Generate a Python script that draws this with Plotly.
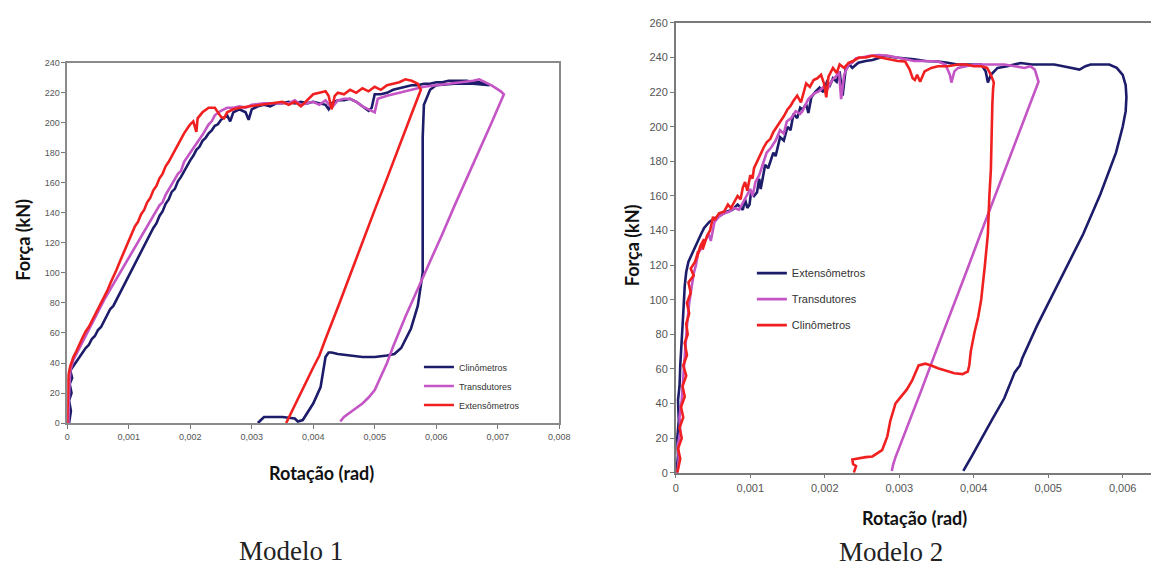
import plotly.graph_objects as go

# ---------------- Modelo 1 data ----------------
m1_clino_x = [0.00003, 0.00006, 0.00003, 0.00007, 0.00004, 0.00008, 0.00005, 0.0001, 0.00015, 0.0002, 0.00025,
              0.0003, 0.00035, 0.0004, 0.00045, 0.0005, 0.00055, 0.0006, 0.00065, 0.0007, 0.00075, 0.0008,
              0.00085, 0.0009, 0.00095, 0.001, 0.00105, 0.0011, 0.00115, 0.0012, 0.00125, 0.0013, 0.00135,
              0.0014, 0.00145, 0.0015, 0.00155, 0.0016, 0.00165, 0.0017, 0.00175, 0.0018, 0.00185, 0.0019,
              0.00195, 0.002, 0.00205, 0.0021, 0.00215, 0.0022, 0.00225, 0.0023, 0.00235, 0.0024, 0.00245,
              0.0025, 0.0026, 0.00265, 0.0027, 0.0028, 0.0029, 0.00295, 0.003, 0.0031, 0.0032, 0.0033, 0.0034,
              0.0035, 0.0036, 0.0037, 0.0038, 0.0039, 0.004, 0.0041, 0.0042, 0.00425, 0.0043, 0.0044, 0.0045,
              0.0046, 0.0047, 0.0048, 0.0049, 0.00495, 0.005, 0.0051, 0.0052, 0.0053, 0.0054, 0.0055, 0.0056,
              0.0057, 0.0058, 0.0059, 0.006, 0.0061, 0.0062, 0.0063, 0.0064, 0.0065, 0.0066, 0.0067, 0.0068,
              0.00687, 0.0066, 0.0063, 0.006, 0.0059, 0.0058, 0.00578, 0.00578, 0.00578, 0.00578, 0.0057,
              0.00559, 0.00543, 0.00532, 0.0052, 0.005, 0.0048, 0.0046, 0.0044, 0.0043, 0.00425, 0.0042,
              0.00412, 0.004, 0.0039, 0.00383, 0.00375, 0.0037, 0.0035, 0.0033, 0.0032, 0.00315, 0.0031]
m1_clino_y = [0, 8, 15, 20, 26, 30, 35, 38, 41, 44, 47,
              50, 52, 56, 58, 62, 64, 68, 71, 76, 78, 82,
              86, 90, 94, 99, 102, 107, 110, 115, 118, 123, 126,
              130, 133, 138, 141, 146, 149, 154, 156, 161, 164, 168,
              171, 175, 178, 182, 184, 188, 190, 193, 195, 198, 199,
              202, 205, 201, 207, 209, 207, 202, 209, 211, 212, 211, 213,
              213, 214, 213, 214, 213, 214, 213, 212, 209, 213, 215, 215,
              216, 214, 211, 208, 210, 219, 219, 220, 222, 223, 224, 225,
              225, 226, 226, 227, 227, 228, 228, 228, 228, 227, 227, 226,
              225, 226, 226, 225, 222, 212, 190, 160, 130, 100, 78,
              63, 50, 46, 45, 44, 44, 45, 46, 47, 47, 44,
              24, 13, 6, 2, 1, 3, 4, 4, 4, 2, 0]

m1_trans_x = [0.00002, 0.00003, 0.00005, 0.0001, 0.00015, 0.0002, 0.00025, 0.0003, 0.00035, 0.0004, 0.00045,
              0.0005, 0.0006, 0.0007, 0.0008, 0.0009, 0.001, 0.0011, 0.0012, 0.0013, 0.0014, 0.0015, 0.00155,
              0.0016, 0.0017, 0.0018, 0.00185, 0.0019, 0.002, 0.0021, 0.0022, 0.0023, 0.00235, 0.0024, 0.0025,
              0.0026, 0.0027, 0.0028, 0.0029, 0.003, 0.0032, 0.0034, 0.0036, 0.0037, 0.0038, 0.0039, 0.004,
              0.0041, 0.0042, 0.0043, 0.0044, 0.0045, 0.0046, 0.0047, 0.0048, 0.0049, 0.005, 0.00505, 0.0052,
              0.0054, 0.0056, 0.0058, 0.006, 0.0062, 0.0064, 0.0066, 0.0067, 0.0068, 0.0069, 0.00705, 0.0071,
              0.0069, 0.0067, 0.0065, 0.0063, 0.0061, 0.0059, 0.0057, 0.0055, 0.0053, 0.0052, 0.0051, 0.005,
              0.0049, 0.0048, 0.0047, 0.0046, 0.0045, 0.00444]
m1_trans_y = [0, 20, 35, 42, 46, 50, 55, 58, 63, 67, 70,
              75, 82, 89, 96, 103, 110, 117, 124, 131, 138, 145, 147,
              152, 159, 166, 168, 174, 180, 186, 192, 199, 201, 205, 208,
              210, 210, 211, 210, 212, 213, 213, 213, 215, 212, 213, 214,
              212, 215, 210, 215, 216, 216, 214, 211, 209, 207, 216, 218,
              220, 222, 224, 225, 226, 227, 228, 229, 227, 225, 221, 219,
              200, 182, 163, 145, 126, 108, 89, 71, 51, 40, 31, 22,
              17, 13, 10, 7, 4, 1]

m1_ext_x = [0, 0.00001, 0.00002, 0.00005, 0.0001, 0.00015, 0.0002, 0.00025, 0.0003, 0.00035, 0.0004, 0.00045,
            0.0005, 0.00055, 0.0006, 0.00065, 0.0007, 0.00075, 0.0008, 0.00085, 0.0009, 0.00095, 0.001, 0.00105,
            0.0011, 0.00115, 0.0012, 0.00125, 0.0013, 0.00135, 0.0014, 0.00145, 0.0015, 0.00155, 0.0016,
            0.00165, 0.0017, 0.00175, 0.0018, 0.00185, 0.0019, 0.00195, 0.002, 0.00205, 0.0021, 0.00212,
            0.0022, 0.0023, 0.0024, 0.0025, 0.00255, 0.0026, 0.0027, 0.0028, 0.003, 0.0032, 0.0034, 0.0035,
            0.0036, 0.0037, 0.0038, 0.0039, 0.004, 0.0041, 0.0042, 0.00425, 0.0043, 0.00435, 0.0044, 0.0045,
            0.0046, 0.0047, 0.0048, 0.0049, 0.005, 0.0051, 0.0052, 0.0053, 0.0054, 0.0055, 0.0056, 0.0057,
            0.00575, 0.0056, 0.0054, 0.0052, 0.005, 0.0048, 0.0046, 0.0044, 0.0042, 0.0041, 0.004, 0.0038,
            0.0037, 0.00356]
m1_ext_y = [0, 20, 32, 38, 44, 48, 53, 57, 61, 64, 68, 72,
            76, 79, 84, 88, 93, 97, 102, 107, 112, 117, 122, 126,
            131, 134, 139, 142, 147, 150, 155, 158, 163, 166, 171,
            174, 178, 182, 186, 189, 193, 196, 199, 201, 194, 203,
            207, 210, 210, 204, 203, 207, 209, 210, 211, 212, 213, 214,
            212, 214, 211, 215, 219, 220, 221, 218, 209, 218, 220, 219,
            222, 220, 223, 221, 224, 222, 225, 226, 227, 229, 228, 226,
            222, 206, 184, 163, 142, 120, 99, 77, 56, 45, 37, 20,
            12, 0]

# ---------------- Modelo 2 data ----------------
m2_ext_x = [0.00001, 0.00003, 0.00002, 0.00004, 0.00003, 0.00005, 0.00006, 0.00008, 0.00009, 0.0001, 0.00012,
            0.00014, 0.00017, 0.00021, 0.00025, 0.0003, 0.00034, 0.00038, 0.00045, 0.00052, 0.0006, 0.00069,
            0.00076, 0.00083, 0.0009, 0.00093, 0.00096, 0.00099, 0.00101, 0.00105, 0.00109, 0.00112, 0.00114,
            0.00118, 0.0012, 0.00124, 0.00128, 0.00131, 0.00134, 0.00137, 0.0014, 0.00145, 0.0015, 0.00154,
            0.00158, 0.00163, 0.00167, 0.0017, 0.00175, 0.00178, 0.00182, 0.00187, 0.00193, 0.00198, 0.00203,
            0.00207, 0.00211, 0.00216, 0.0022, 0.00222, 0.00224, 0.00228, 0.00233, 0.00237, 0.00245, 0.00255,
            0.00264, 0.00275, 0.00282, 0.00295, 0.00308, 0.0032, 0.00335, 0.00352, 0.00365, 0.00378, 0.0039,
            0.004, 0.0041, 0.00416, 0.00419, 0.00423, 0.00432, 0.00445, 0.00463, 0.00478, 0.00494, 0.00508,
            0.0052, 0.00532, 0.00542, 0.0055, 0.00557, 0.00568, 0.00582, 0.00592, 0.006, 0.00604, 0.00605,
            0.00604, 0.006, 0.00591, 0.0057, 0.00547, 0.00525, 0.00503, 0.00485, 0.00465, 0.00462, 0.00455,
            0.00441, 0.00425, 0.0041, 0.00398, 0.00386]
m2_ext_y = [0, 10, 20, 30, 42, 50, 62, 75, 82, 92, 108,
            116, 122, 126, 130, 134, 138, 141.5, 145, 147, 149, 151,
            152, 155, 152, 158, 153, 155, 162, 160, 162, 170, 164,
            172, 178, 176, 182, 185, 183, 189, 194, 192, 200, 198,
            207.5, 205, 211, 210, 213, 208, 217, 220, 222.6, 220, 226,
            224, 228, 226, 232, 224, 218, 233, 236, 234, 237, 238,
            238.6, 240, 241, 240, 239.6, 239, 238, 237.7, 237, 236, 236,
            236, 236, 232, 225.5, 230, 234, 235, 236.8, 236, 235.8, 236,
            235, 234, 233, 235, 236, 236, 236, 234, 230, 224, 217,
            209, 200, 185, 161, 138, 119, 100, 85, 66, 62, 58,
            43, 31, 19, 10, 1]

m2_trans_x = [0.00002, 0.00004, 0.00003, 0.00006, 0.00005, 0.00008, 0.0001, 0.00012, 0.00015, 0.00018, 0.00021,
              0.00024, 0.00027, 0.0003, 0.00035, 0.0004, 0.00044, 0.00047, 0.0005, 0.00052, 0.00058, 0.00065,
              0.00072, 0.00078, 0.00085, 0.0009, 0.00095, 0.001, 0.00103, 0.00107, 0.00112, 0.00117, 0.00122,
              0.00128, 0.00134, 0.0014, 0.00145, 0.00149, 0.00155, 0.00161, 0.00167, 0.0017, 0.00173, 0.00178,
              0.00185, 0.00193, 0.00198, 0.00204, 0.0021, 0.00215, 0.00219, 0.00222, 0.00226, 0.00232, 0.00237,
              0.00242, 0.0025, 0.0026, 0.00273, 0.00285, 0.00297, 0.00308, 0.0032, 0.00335, 0.00352, 0.00362,
              0.00368, 0.0037, 0.00374, 0.00379, 0.0039, 0.004, 0.0041, 0.00425, 0.00441, 0.00455, 0.00468,
              0.00476, 0.00482, 0.00487, 0.0047, 0.0045, 0.0043, 0.0041, 0.0039, 0.0037, 0.0035, 0.0033, 0.0032,
              0.0031, 0.00302, 0.00297, 0.00295, 0.00292, 0.0029]
m2_trans_y = [0, 8, 16, 24, 32, 42, 55, 70, 85, 98, 108,
              115, 120, 127, 130, 134, 138, 134, 140, 145, 148, 150,
              151, 153, 152, 156, 160, 164, 160, 168, 172, 178, 185,
              188, 192, 198, 196, 203, 205, 209, 207.5, 209, 212, 216,
              219, 220.7, 223, 222, 227, 229, 232, 216, 230, 236, 237,
              239.6, 240, 241, 241.5, 241, 240, 239, 238, 238, 237.7, 236,
              230, 225.5, 232, 234, 235, 236, 236, 236, 236, 235, 234,
              235, 233, 226, 207, 184, 162, 139, 116, 94, 71, 48, 37,
              26, 17, 11, 9, 5, 1]

m2_clino_x = [0.00002, 0.00006, 0.00003, 0.00008, 0.00005, 0.0001, 0.00007, 0.00012, 0.00009, 0.00014, 0.0001,
              0.00015, 0.00012, 0.00016, 0.00014, 0.00018, 0.00015, 0.0002, 0.00017, 0.00024, 0.0002, 0.00026,
              0.0003, 0.00028, 0.00033, 0.00038, 0.00036, 0.00042, 0.00046, 0.0005, 0.00052, 0.00058, 0.00065,
              0.0007, 0.00074, 0.00079, 0.00083, 0.00087, 0.0009, 0.00093, 0.00096, 0.001, 0.00103, 0.00105,
              0.00109, 0.00114, 0.00118, 0.00122, 0.00127, 0.00131, 0.00136, 0.00141, 0.00145, 0.0015, 0.00154,
              0.00158, 0.00163, 0.00168, 0.00172, 0.00175, 0.0018, 0.00185, 0.0019, 0.00195, 0.00199, 0.00202,
              0.00205, 0.00211, 0.00216, 0.0022, 0.00226, 0.00232, 0.00238, 0.00246, 0.00255, 0.00264, 0.00275,
              0.00286, 0.00298, 0.00308, 0.00314, 0.00318, 0.00321, 0.00324, 0.00328, 0.00334, 0.00343, 0.00352,
              0.00365, 0.00379, 0.0039, 0.004, 0.0041, 0.00418, 0.00423, 0.00427, 0.00426, 0.00425, 0.00424,
              0.00423, 0.00421, 0.00419, 0.00415, 0.0041, 0.00406, 0.00401, 0.00396, 0.00394, 0.00392, 0.00385,
              0.00374, 0.00362, 0.00352, 0.00343, 0.00335, 0.00326, 0.00317, 0.0031, 0.00304, 0.00295, 0.00288,
              0.00284, 0.00277, 0.0027, 0.00264, 0.00255, 0.00246, 0.00237, 0.00238, 0.00242, 0.00239, 0.00242]
m2_clino_y = [0, 8, 14, 20, 26, 32, 38, 44, 50, 56, 62,
              68, 75, 80, 86, 92, 98, 104, 110, 114, 118, 122,
              128, 124, 131, 135, 129, 137, 140, 148, 146, 150, 151,
              155, 153, 157, 160, 158, 165, 168, 163, 172, 170, 176,
              180, 185, 188, 191, 193, 197, 200, 203, 206, 210, 212,
              215, 218, 214, 220, 225, 223, 227, 228, 230, 225, 217,
              229, 234, 231, 236, 234, 237, 238, 240, 240, 241, 240,
              239, 238, 237.7, 233, 228, 227, 230, 226, 232, 234, 235,
              235, 236, 236, 235, 235, 234, 230, 225.5, 222, 213, 195,
              175, 160, 138, 120, 100, 90, 81, 70, 62, 58.5, 57,
              57.5, 59, 60.4, 62, 63, 62, 53, 48, 45, 40, 30,
              21, 13, 11, 9.4, 9, 8.5, 7.6, 5, 3.8, 0]

# tick labels
m1_xtick_vals = [0, 0.001, 0.002, 0.003, 0.004, 0.005, 0.006, 0.007, 0.008]
m1_xtick_text = ["0", "0,001", "0,002", "0,003", "0,004", "0,005", "0,006", "0,007", "0,008"]
m2_xtick_vals = [0, 0.001, 0.002, 0.003, 0.004, 0.005, 0.006]
m2_xtick_text = ["0", "0,001", "0,002", "0,003", "0,004", "0,005", "0,006"]

NAVY = "#1c1c6b"
MAG = "#c455c4"
RED = "#f02020"
W, H = 1162, 571
LW = 2.6


def px(x):
    return x / W


def py(y):
    return 1 - y / H


fig = go.Figure()

# Modelo 1 traces
fig.add_trace(go.Scatter(x=m1_clino_x, y=m1_clino_y, mode="lines", name="Clinômetros",
                         line=dict(color=NAVY, width=LW), xaxis="x", yaxis="y", legend="legend"))
fig.add_trace(go.Scatter(x=m1_trans_x, y=m1_trans_y, mode="lines", name="Transdutores",
                         line=dict(color=MAG, width=LW), xaxis="x", yaxis="y", legend="legend"))
fig.add_trace(go.Scatter(x=m1_ext_x, y=m1_ext_y, mode="lines", name="Extensômetros",
                         line=dict(color=RED, width=LW), xaxis="x", yaxis="y", legend="legend"))

# Modelo 2 traces
fig.add_trace(go.Scatter(x=m2_ext_x, y=m2_ext_y, mode="lines", name="Extensômetros",
                         line=dict(color=NAVY, width=LW), xaxis="x2", yaxis="y2", legend="legend2",
                         legendgroup="a"))
fig.add_trace(go.Scatter(x=m2_trans_x, y=m2_trans_y, mode="lines", name="Transdutores",
                         line=dict(color=MAG, width=LW), xaxis="x2", yaxis="y2", legend="legend2",
                         legendgroup="b"))
fig.add_trace(go.Scatter(x=m2_clino_x, y=m2_clino_y, mode="lines", name="Clinômetros",
                         line=dict(color=RED, width=LW), xaxis="x2", yaxis="y2", legend="legend2",
                         legendgroup="c"))

tick_font_1 = dict(family="Liberation Sans, Arial, sans-serif", size=9, color="#555555")
tick_font_2 = dict(family="Liberation Sans, Arial, sans-serif", size=11, color="#555555")
title_font = dict(family="Lato, Open Sans, sans-serif", size=18, color="#111111")
cap_font = dict(family="Liberation Serif, DejaVu Serif, serif", size=27, color="#222222")

fig.update_layout(
    width=W, height=H,
    margin=dict(l=0, r=0, t=0, b=0),
    paper_bgcolor="white", plot_bgcolor="white",
    xaxis=dict(domain=[px(65), px(563)], range=[0, 0.008], tickvals=m1_xtick_vals, ticktext=m1_xtick_text,
               showgrid=False, zeroline=False, showline=True, linecolor="#8a8a8a", linewidth=1.5,
               mirror=True, ticks="outside", ticklen=4, tickcolor="#777777", tickfont=tick_font_1),
    yaxis=dict(domain=[py(426), py(58)], range=[0, 240], dtick=20,
               showgrid=False, zeroline=False, showline=True, linecolor="#8a8a8a", linewidth=1.5,
               mirror=True, ticks="outside", ticklen=4, tickcolor="#777777", tickfont=tick_font_1),
    xaxis2=dict(domain=[px(681), 1.0], range=[0, 0.00638], tickvals=m2_xtick_vals, ticktext=m2_xtick_text,
                anchor="y2", showgrid=False, zeroline=False, showline=True, linecolor="#7a7a7a", linewidth=1.5,
                mirror=True, ticks="outside", ticklen=4, tickcolor="#777777", tickfont=tick_font_2),
    yaxis2=dict(domain=[py(476.7), py(17.3)], range=[0, 260], dtick=20, anchor="x2",
                showgrid=False, zeroline=False, showline=True, linecolor="#7a7a7a", linewidth=1.5,
                ticks="outside", ticklen=4, tickcolor="#777777", tickfont=tick_font_2),
    legend=dict(x=px(421), y=py(354), xanchor="left", yanchor="top",
                font=dict(family="Liberation Sans, Arial, sans-serif", size=9, color="#333333"),
                bgcolor="rgba(255,255,255,0.9)", borderwidth=0, itemwidth=30),
    legend2=dict(x=px(758), y=py(258), xanchor="left", yanchor="top",
                 font=dict(family="Liberation Sans, Arial, sans-serif", size=11, color="#333333"),
                 bgcolor="rgba(255,255,255,0.9)", borderwidth=0, tracegroupgap=7,
                 traceorder="grouped"),
    showlegend=True,
)

annotations = [
    dict(text="<b>Força (kN)</b>", x=px(20), y=py(239), textangle=-90, font=title_font),
    dict(text="<b>Rotação (rad)</b>", x=px(322), y=py(477), font=title_font),
    dict(text="<b>Força (kN)</b>", x=px(637), y=py(244), textangle=-90, font=title_font),
    dict(text="<b>Rotação (rad)</b>", x=px(923), y=py(523), font=title_font),
    dict(text="Modelo 1", x=px(292), y=py(557), font=cap_font),
    dict(text="Modelo 2", x=px(899), y=py(558), font=cap_font),
]
for a in annotations:
    a.update(xref="paper", yref="paper", showarrow=False, xanchor="center", yanchor="middle")
fig.update_layout(annotations=annotations)

fig.write_html("out.html", config={"displayModeBar": False},
               post_script="document.body.style.margin='0';")
